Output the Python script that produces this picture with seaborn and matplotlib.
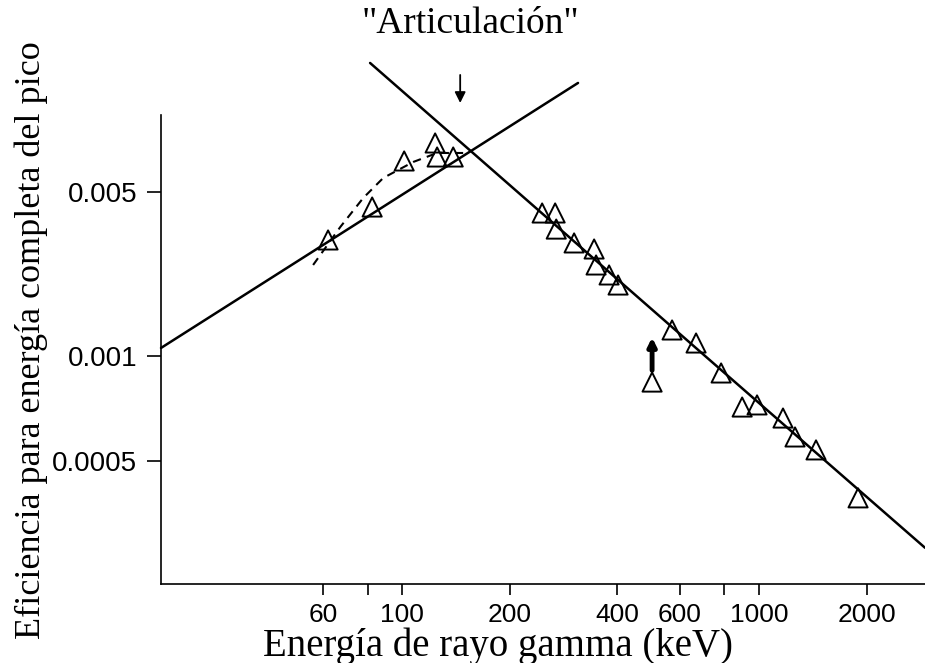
import numpy as np
import pandas as pd
import matplotlib
matplotlib.use("Agg")
import matplotlib.pyplot as plt
import matplotlib.ticker as mticker
import seaborn as sns

# puntos medidos (energía keV, eficiencia)
energy_kev = [62.0, 82.4, 101.3, 123.7, 125.3, 139.0, 246.7, 268.3, 270.2, 303.2,
              345.0, 349.4, 380.0, 402.7, 570.5, 666.0, 501.5, 782.8, 896.6, 987.0,
              1167, 1261, 1444, 1894]
efficiency = [0.003123, 0.004315, 0.00678, 0.00809, 0.00705, 0.00705, 0.004069,
              0.00407, 0.003475, 0.003033, 0.002858, 0.002443, 0.002215, 0.002007,
              0.001291, 0.001136, 0.000842, 0.000894, 0.000714, 0.000724, 0.000664,
              0.000586, 0.000538, 0.000392]

# rectas de ajuste
low_line_kev = [21.1, 311]
low_line_eff = [0.001082, 0.01458]
high_line_kev = [81.3, 706, 2917]
high_line_eff = [0.01774, 0.001, 0.000282]

# curva a trazos (zona de baja energía)
curve_kev = [56.3, 67.1, 77.8, 88.5, 107.4, 125.3, 148.2]
curve_eff = [0.002443, 0.003548, 0.004716, 0.005738, 0.006714, 0.007333, 0.007333]

# punto corregido (flecha)
outlier_kev = 501.5
outlier_arrow = [0.00091, 0.00120]

# "articulación": flecha sobre el cruce de las rectas
knee_kev = 145.4
knee_arrow = [0.01577, 0.01198]

x_ticks = [60, 80, 100, 200, 400, 600, 800, 1000, 2000]
x_labels = ["60", "", "100", "200", "400", "600", "", "1000", "2000"]
y_ticks = [0.0005, 0.001, 0.005]
y_labels = ["0.0005", "0.001", "0.005"]

# el eje y del original no es un log uniforme: se interpola entre las marcas
tick_log = np.log10(y_ticks)
tick_pos = np.array([123.0, 228.0, 392.0])
lo_slope = (tick_pos[1] - tick_pos[0]) / (tick_log[1] - tick_log[0])
hi_slope = (tick_pos[2] - tick_pos[1]) / (tick_log[2] - tick_log[1])
knot_log = np.concatenate([[-10.0], tick_log, [2.0]])
knot_pos = np.concatenate([[tick_pos[0] - (tick_log[0] + 10.0) * lo_slope], tick_pos,
                           [tick_pos[2] + (2.0 - tick_log[2]) * hi_slope]])


def fwd(y):
    y = np.clip(np.asarray(y, dtype=float), 1e-12, None)
    return np.interp(np.log10(y), knot_log, knot_pos)


def inv(h):
    return 10 ** np.interp(np.asarray(h, dtype=float), knot_pos, knot_log)


sns.set_style("ticks")
plt.rcParams["font.family"] = ["Liberation Sans", "DejaVu Sans"]
plt.rcParams["text.color"] = "black"
plt.rcParams["axes.labelcolor"] = "black"
serif = ["Liberation Serif", "DejaVu Serif"]

fig = plt.figure(figsize=(9.25, 6.63), dpi=100)
ax = fig.add_axes([161 / 925, 79 / 663, 764 / 925, 469 / 663])

ax.set_xscale("log")
ax.set_yscale("function", functions=(fwd, inv))

pts = pd.DataFrame({"E": energy_kev, "eff": efficiency})
sns.scatterplot(data=pts, x="E", y="eff", marker="^", s=190, facecolors="none",
                edgecolor="black", linewidth=1.4, ax=ax, zorder=3)

sns.lineplot(x=low_line_kev, y=low_line_eff, sort=False, estimator=None,
             color="black", lw=1.8, clip_on=False, ax=ax)
sns.lineplot(x=high_line_kev, y=high_line_eff, sort=False, estimator=None,
             color="black", lw=1.8, clip_on=False, ax=ax)
sns.lineplot(x=curve_kev, y=curve_eff, sort=False, estimator=None,
             color="black", lw=1.5, ls=(0, (4, 3)), ax=ax)

ax.annotate("", xy=(outlier_kev, outlier_arrow[1]), xytext=(outlier_kev, outlier_arrow[0]),
            arrowprops=dict(arrowstyle="-|>", lw=3.5, color="black", mutation_scale=12,
                            shrinkA=0, shrinkB=0))

ax.annotate("", xy=(knee_kev, knee_arrow[1]), xytext=(knee_kev, knee_arrow[0]),
            annotation_clip=False,
            arrowprops=dict(arrowstyle="-|>", lw=1.3, color="black", mutation_scale=16,
                            shrinkA=0, shrinkB=0))
ax.text(0.405, 1.195, '"Articulación"', transform=ax.transAxes, ha="center",
        va="center", fontsize=27, family=serif)

ax.set_xlim(21.1, 2917)
ax.set_ylim(inv(0.0), inv(469.0))

ax.xaxis.set_major_locator(mticker.FixedLocator(x_ticks))
ax.xaxis.set_major_formatter(mticker.FixedFormatter(x_labels))
ax.xaxis.set_minor_locator(mticker.NullLocator())
ax.yaxis.set_major_locator(mticker.FixedLocator(y_ticks))
ax.yaxis.set_major_formatter(mticker.FixedFormatter(y_labels))
ax.yaxis.set_minor_locator(mticker.NullLocator())

ax.tick_params(axis="x", direction="out", length=8, width=1.2, pad=6, labelsize=19,
               colors="black")
ax.tick_params(axis="y", direction="out", length=10, width=1.2, pad=7, labelsize=20,
               colors="black")

for side in ["top", "right"]:
    ax.spines[side].set_visible(False)
for side in ["left", "bottom"]:
    ax.spines[side].set_linewidth(1.2)
    ax.spines[side].set_color("black")

ax.set_xlabel("Energía de rayo gamma (keV)", fontsize=28, family=serif)
ax.set_ylabel("Eficiencia para energía completa del pico", fontsize=26, family=serif)
ax.xaxis.set_label_coords(0.441, -0.092)
ax.yaxis.set_label_coords(-0.148, 0.52)

fig.savefig("out.png", dpi=100)
